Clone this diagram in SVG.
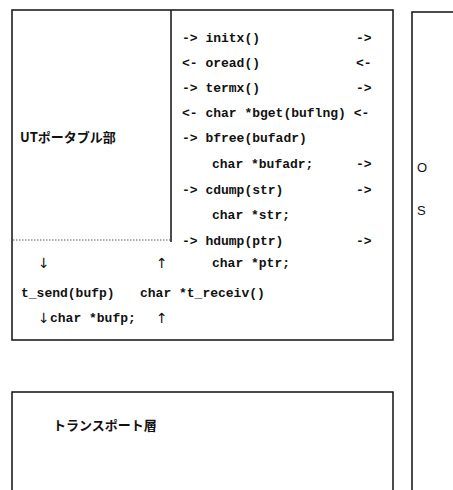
<svg xmlns="http://www.w3.org/2000/svg" width="453" height="490" viewBox="0 0 453 490">
<style>
.box{fill:none;stroke:#111;stroke-width:1.5}
.dot{fill:none;stroke:#555;stroke-width:1;stroke-dasharray:1.5 1.5}
.t{font-family:"Liberation Mono","DejaVu Sans Mono",monospace;font-size:13px;font-weight:bold;fill:#111}
.a{font-family:"DejaVu Sans",sans-serif;font-size:14px;fill:#111;font-variant-emoji:text}
.j{font-family:"Noto Sans CJK JP","Liberation Sans",sans-serif;font-size:13px;font-weight:bold;fill:#111}
.o{font-family:"Liberation Sans",sans-serif;font-size:13px;fill:#111}
</style>
<rect width="453" height="490" fill="#fff"/>
<g id="main">
<rect class="box" x="12" y="10" width="381" height="330"/>
</g>
<g id="ut-portable">
<path class="box" d="M171 10 V242"/>
<path class="dot" d="M13 240 H170"/>
<text class="j" x="20" y="142">UTポータブル部</text>
</g>
<g id="interface">
<text class="t" x="182" y="42">-&gt; initx()</text>
<text class="t" x="356" y="42">-&gt;</text>
<text class="t" x="182" y="67">&lt;- oread()</text>
<text class="t" x="356" y="67">&lt;-</text>
<text class="t" x="182" y="92">-&gt; termx()</text>
<text class="t" x="356" y="92">-&gt;</text>
<text class="t" x="182" y="117">&lt;- char *bget(buflng) &lt;-</text>
<text class="t" x="182" y="142">-&gt; bfree(bufadr)</text>
<text class="t" x="212" y="168">char *bufadr;</text>
<text class="t" x="356" y="168">-&gt;</text>
<text class="t" x="182" y="194">-&gt; cdump(str)</text>
<text class="t" x="356" y="194">-&gt;</text>
<text class="t" x="212" y="219">char *str;</text>
<text class="t" x="182" y="245">-&gt; hdump(ptr)</text>
<text class="t" x="356" y="245">-&gt;</text>
<text class="t" x="212" y="267">char *ptr;</text>
<text class="a" x="38" y="268">↓</text>
<text class="a" x="156" y="268">↑</text>
<text class="t" x="21" y="297">t_send(bufp)</text>
<text class="t" x="140" y="297">char *t_receiv()</text>
<text class="a" x="38" y="323">↓</text>
<text class="t" x="50" y="322">char *bufp;</text>
<text class="a" x="156" y="323">↑</text>
</g>
<g id="transport">
<path class="box" d="M12 495 V392 H393 V495"/>
<text class="j" x="53" y="430">トランスポート層</text>
</g>
<g id="os">
<path class="box" d="M460 12 H412 V495"/>
<text class="o" x="417" y="172">O</text>
<text class="o" x="417" y="215">S</text>
</g>
<g id="connectors"/>
</svg>
